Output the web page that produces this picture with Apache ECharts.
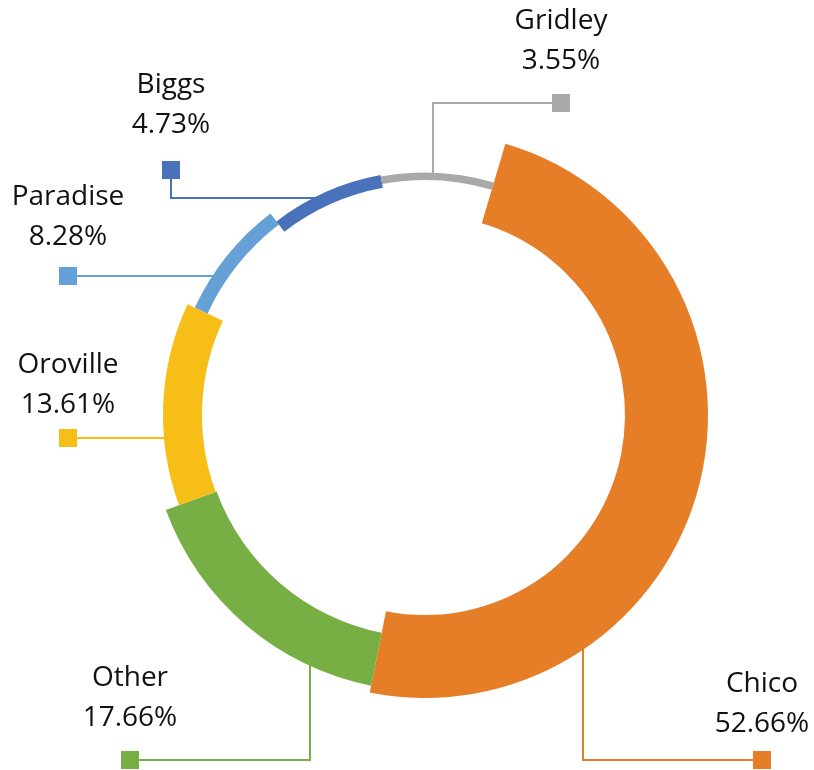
<!DOCTYPE html>
<html><head><meta charset="utf-8">
<script src="https://cdn.jsdelivr.net/npm/echarts@6/dist/echarts.min.js"></script>
<style>html,body{margin:0;padding:0;background:#fff}#c{width:814px;height:770px}</style>
</head><body><div id="c"></div>
<script>
// ---- data ----
const cities = ['Chico', 'Other', 'Oroville', 'Paradise', 'Biggs', 'Gridley'];
const shares = [52.66, 17.66, 13.61, 8.28, 4.73, 3.55];

// ---- styles / layout ----
const colors = ['#E67E28', '#78AF44', '#F7BE18', '#65A0D6', '#4A72BA', '#A9A9A9'];
const CX = 425, CY = 415;
const rings = [[200, 283], [222, 276], [223, 262], [240, 254], [231, 244], [235, 242.5]];
const guides = [
  { text: [762, 684], sq: [762, 760], via: { x: 583 } },
  { text: [130, 678], sq: [130, 760], via: { x: 310 } },
  { text: [68, 365], sq: [68, 438] },
  { text: [68, 197], sq: [68, 276] },
  { text: [171, 85], sq: [171, 170], via: { y: 198 } },
  { text: [561, 21], sq: [561, 103], via: { x: 433 } }
];

function guidePoints(k) {
  const g = guides[k], rm = (rings[k][0] + rings[k][1]) / 2, sq = g.sq;
  if (g.via && g.via.x != null) {
    const vx = g.via.x, d = Math.sqrt(rm * rm - (vx - CX) * (vx - CX));
    const ay = sq[1] < CY ? CY - d : CY + d;
    return [[vx, ay], [vx, sq[1]], sq.slice()];
  }
  const vy = (g.via && g.via.y != null) ? g.via.y : sq[1];
  const d = Math.sqrt(rm * rm - (vy - CY) * (vy - CY));
  const ax = sq[0] < CX ? CX - d : CX + d;
  return [[ax, vy], [sq[0], vy], sq.slice()];
}

const series = cities.map((_, k) => {
  const g = guides[k];
  const sqLine = 2 * (g.sq[1] - g.text[1] - 60);
  return {
    type: 'pie',
    silent: true,
    animation: false,
    center: [CX, CY],
    radius: rings[k],
    startAngle: 73.5,
    minAngle: 27,
    clockwise: true,
    avoidLabelOverlap: false,
    data: cities.map((name, i) => ({
      name: name,
      value: shares[i],
      itemStyle: { color: i === k ? colors[i] : 'rgba(0,0,0,0)' },
      label: { show: i === k },
      labelLine: { show: i === k }
    })),
    label: {
      formatter: p => '{n|' + p.name + '}\n{n|' + p.value.toFixed(2) + '%}\n{s|}',
      rich: {
        n: { fontSize: 28, lineHeight: 40, fontFamily: 'Open Sans', color: '#111', align: 'center' },
        s: { width: 18, height: 18, lineHeight: sqLine, backgroundColor: colors[k], align: 'center' }
      }
    },
    labelLine: { smooth: false, lineStyle: { width: 2, color: colors[k] } },
    labelLayout: function () {
      return {
        x: g.text[0], y: g.text[1] - 20, align: 'center', verticalAlign: 'top',
        labelLinePoints: guidePoints(k)
      };
    }
  };
});

const chart = echarts.init(document.getElementById('c'), null, { renderer: 'canvas' });
chart.setOption({ backgroundColor: '#fff', animation: false, series: series });
</script>
</body></html>
